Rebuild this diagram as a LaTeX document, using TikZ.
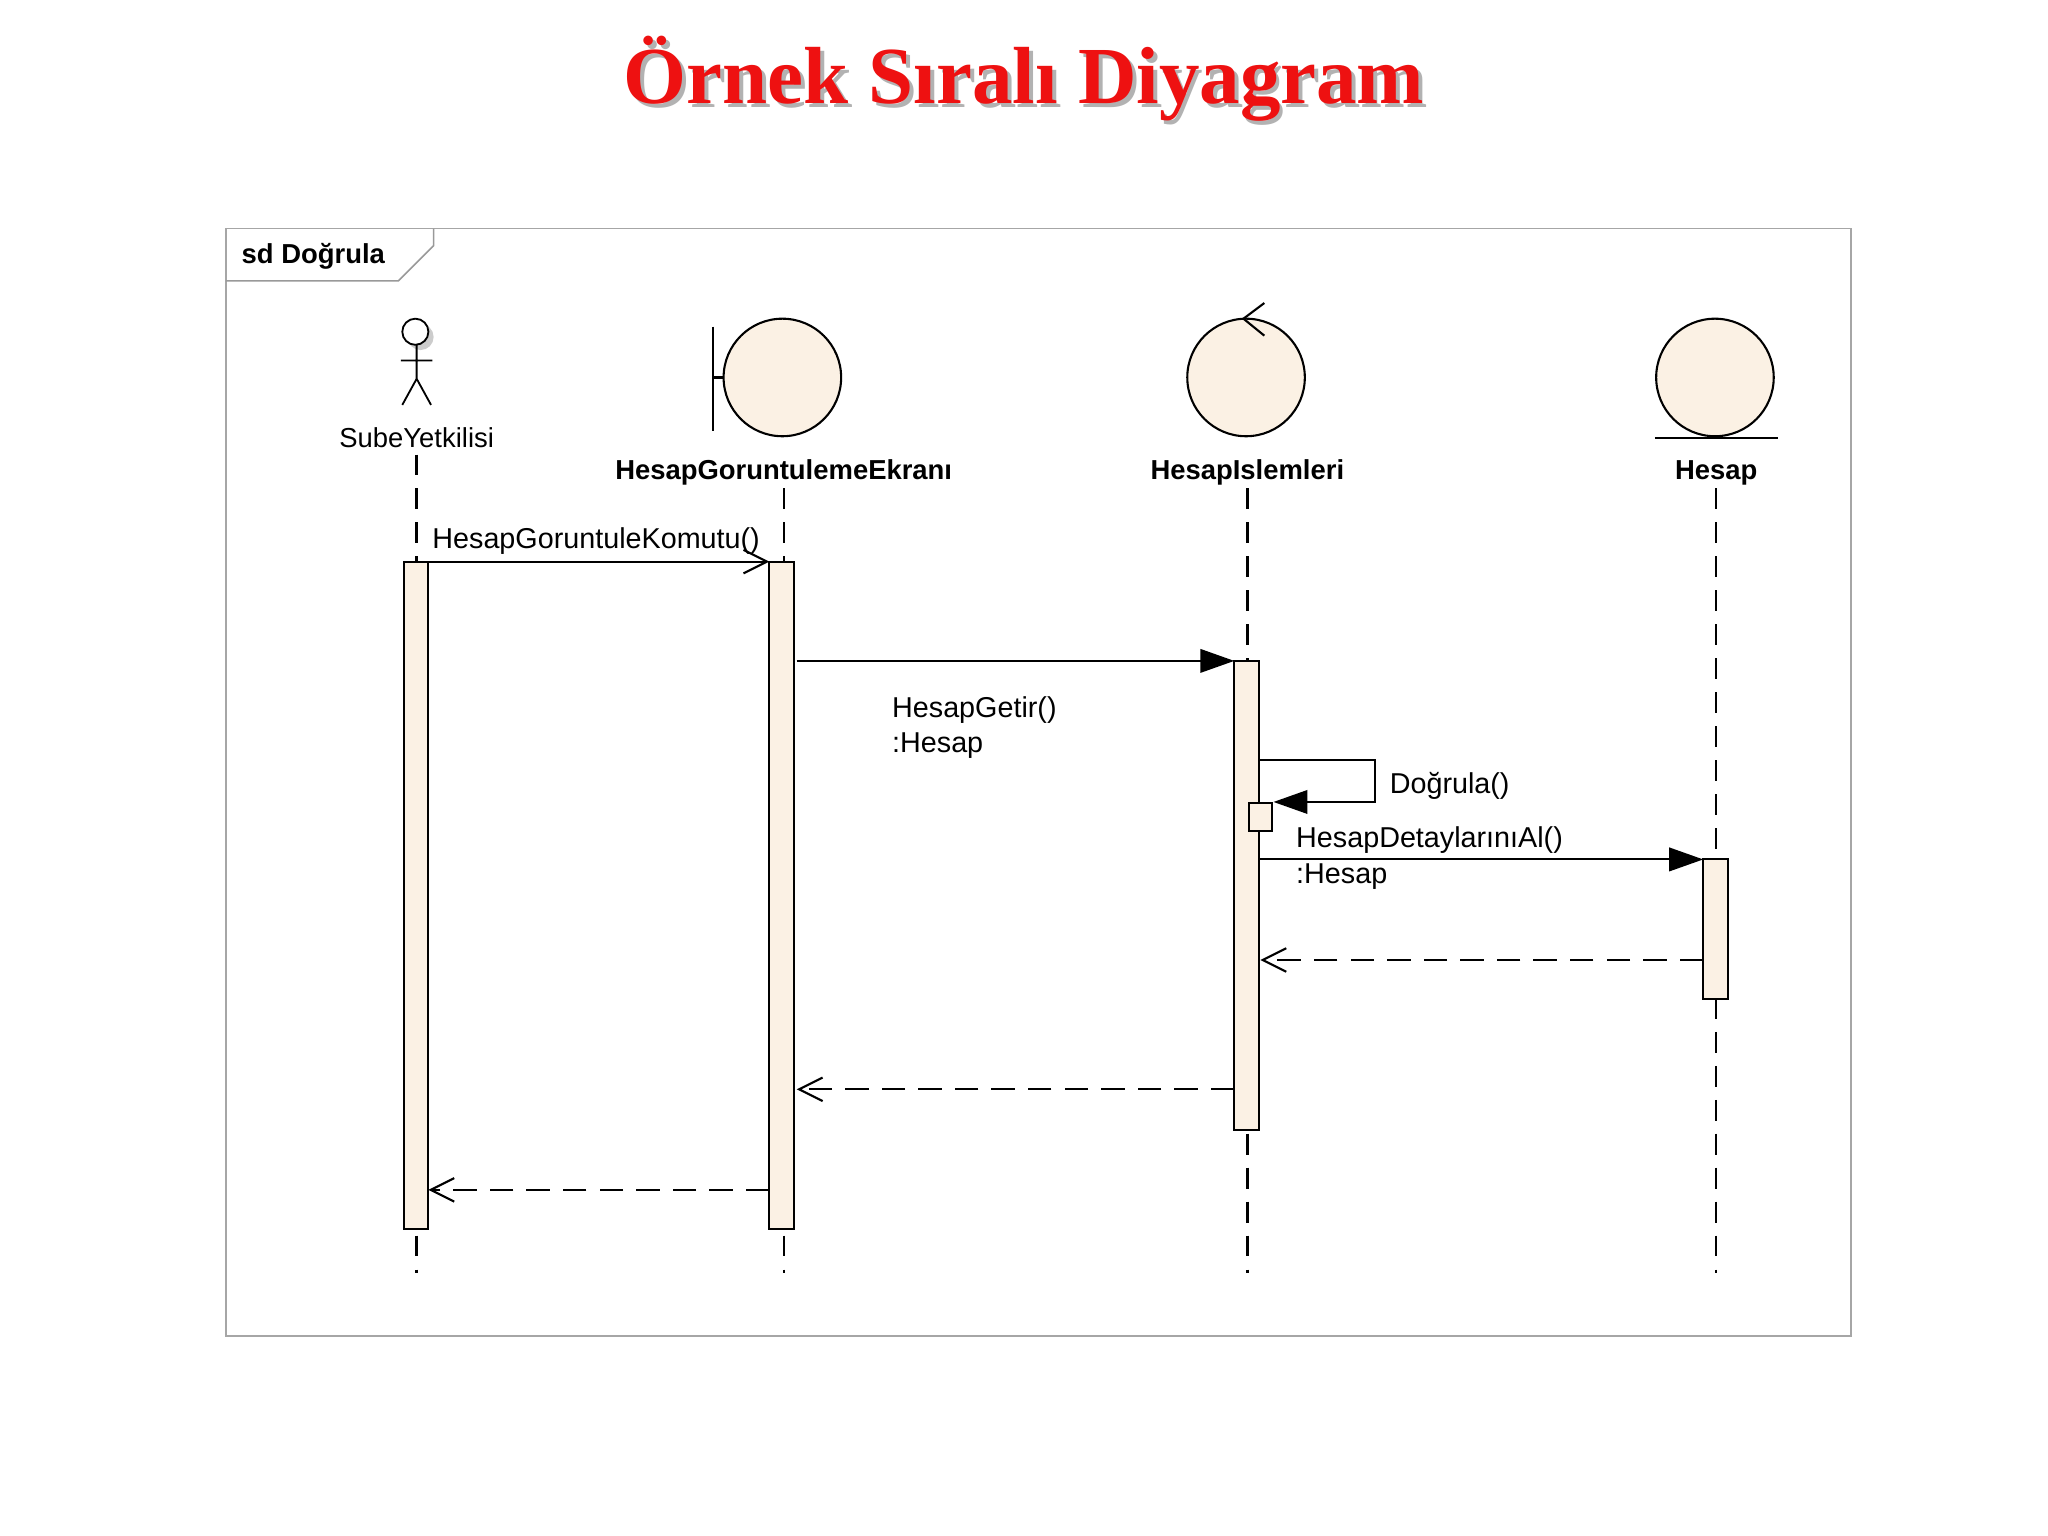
\documentclass[tikz,border=0pt]{standalone}
\usepackage{fontspec}
\setmainfont{Liberation Sans}
\newfontfamily\titlefont{Liberation Serif}
\usetikzlibrary{arrows.meta,shadows}
\definecolor{cream}{HTML}{FBF1E4}
\definecolor{titlered}{HTML}{EE1111}
\begin{document}
\begin{tikzpicture}[x=0.5pt,y=-0.5pt,
  life/.style={dash pattern=on 8pt off 5pt,line width=0.9pt},
  actbox/.style={draw,fill=cream,line width=0.8pt},
  obj/.style={circle,draw,fill=cream,minimum size=45pt,inner sep=0pt,line width=0.8pt},
  nm/.style={font=\bfseries\fontsize{10.5}{12}\selectfont},
  lbl/.style={font=\fontsize{11}{13.5}\selectfont,anchor=west,align=left},
  msg/.style={line width=0.8pt,-{Triangle[length=13pt,width=9pt]}},
  ret/.style={line width=0.8pt,dash pattern=on 9pt off 5pt,-{Straight Barb[length=9pt,width=9pt]}},
  syn/.style={line width=0.8pt,-{Straight Barb[length=9pt,width=9pt]}}]
\useasboundingbox (0,0) rectangle (1568,1176);
\fill[white] (0,0) rectangle (1568,1176);
% title
\node[font=\titlefont\bfseries\fontsize{31}{34}\selectfont,text=gray!60] at (787,63) {Örnek Sıralı Diyagram};
\node (title)[font=\titlefont\bfseries\fontsize{31}{34}\selectfont,text=titlered] at (784,60) {Örnek Sıralı Diyagram};
% frame
\draw[gray!70,line width=0.6pt] (173,175) rectangle (1417,1023);
\draw[gray!80,line width=0.6pt] (173,215) -- (305,215) -- (332,188) -- (332,175);
\node (sd)[font=\bfseries\fontsize{10.5}{12}\selectfont,anchor=west] at (178,196) {sd Doğrula};
% actor
\fill[gray!40] (322,258) circle (10);
\draw[line width=0.7pt,fill=white] (318,254) circle (10);
\draw[line width=0.7pt] (319,264) -- (319,290) (307,276) -- (331,276) (308,310) -- (319,290) -- (330,310);
\node (a)[font=\fontsize{10.5}{12}\selectfont] at (319,335) {SubeYetkilisi};
% boundary
\node (bc)[obj] at (599,289) {};
\draw[line width=0.8pt] (546,250) -- (546,330) (546,289) -- (bc.west);
\node (b)[nm] at (600,362) {HesapGoruntulemeEkranı};
% control
\node (cc)[obj] at (954,289) {};
\draw[line width=0.8pt] (968,232) -- (952,244) -- (968,257);
\node (c)[nm] at (955,362) {HesapIslemleri};
% entity
\node (dc)[obj] at (1313,289) {};
\draw[line width=0.8pt] (1267,335) -- (1361,335);
\node (d)[nm] at (1314,362) {Hesap};
% lifelines
\draw[life] (319,348) -- (319,975);
\draw[life] (600,374) -- (600,975);
\draw[life] (955,374) -- (955,975);
\draw[life] (1314,374) -- (1314,975);
% activations
\draw[actbox] (309,430) rectangle (328,941);
\draw[actbox] (589,430) rectangle (608,941);
\draw[actbox] (945,506) rectangle (964,865);
\draw[actbox] (956,615) rectangle (974,636);
\draw[actbox] (1304,658) rectangle (1323,765);
\coordinate (m1s) at (328,430); \coordinate (m1e) at (589,430);
\coordinate (m2s) at (610,506); \coordinate (m2e) at (945,506);
\coordinate (m3s) at (965,582); \coordinate (m3e) at (975,614);
\coordinate (m4s) at (965,658); \coordinate (m4e) at (1304,658);
\coordinate (r1s) at (1304,735); \coordinate (r1e) at (965,735);
\coordinate (r2s) at (945,834); \coordinate (r2e) at (610,834);
\coordinate (r3s) at (589,911); \coordinate (r3e) at (328,911);
\draw[syn] (m1s) -- (m1e);
\node[lbl] at (324,414) {HesapGoruntuleKomutu()};
\draw[msg] (m2s) -- (m2e);
\node[lbl] at (676,557) {HesapGetir()\\:Hesap};
\draw[msg] (m3s) -- (1053,582) -- (1053,614) -- (m3e);
\node[lbl] at (1057,602) {Doğrula()};
\draw[msg] (m4s) -- (m4e);
\node[lbl,fill=white,inner sep=1pt] at (990,643) {HesapDetaylarınıAl()};
\node[lbl,fill=white,inner sep=1pt] at (990,671) {:Hesap};
\draw[ret] (r1s) -- (r1e);
\draw[ret] (r2s) -- (r2e);
\draw[ret] (r3s) -- (r3e);
\end{tikzpicture}
\end{document}
